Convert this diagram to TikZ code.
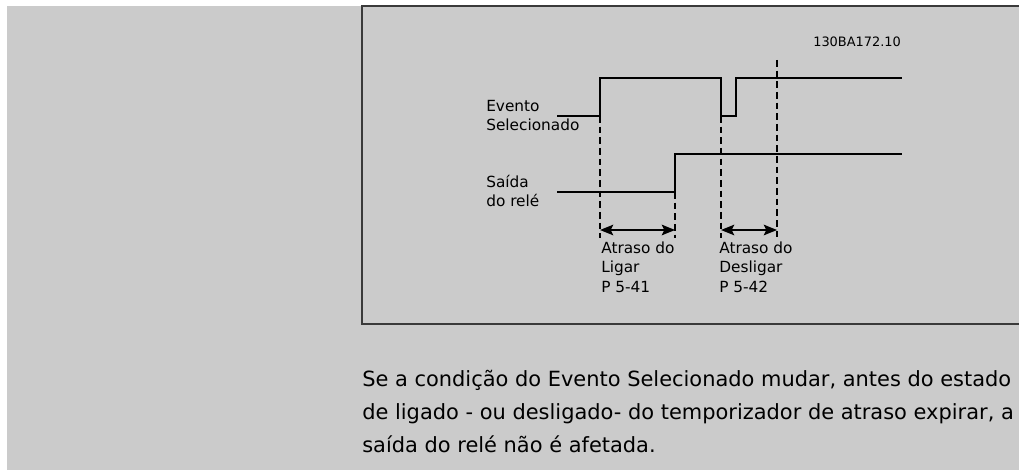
\documentclass[tikz,border=0pt]{standalone}
\usepackage{fontspec}
\setmainfont{DejaVu Sans}
\usepackage{xcolor}
\usepackage{tikz}
\usetikzlibrary{arrows.meta}
\usetikzlibrary{calc,positioning}

\definecolor{paneel}{HTML}{CBCBCB}
\definecolor{rand}{HTML}{3A3A3A}

\tikzset{
    signaal/.style={line width=1.4pt, black},
    hulplijn/.style={line width=1pt, black, dash pattern=on 5pt off 3pt},
    vertraging/.style={line width=1.1pt, black, {Stealth[length=10pt,width=8pt,inset=2pt]}-{Stealth[length=10pt,width=8pt,inset=2pt]}},
    label/.style={anchor=base west, inner sep=0pt, align=left, font=\fontsize{11.5}{14.5}\selectfont},
}

\begin{document}
\begin{tikzpicture}[x=0.75pt,y=-0.75pt]

    % Achtergrond
    \useasboundingbox (0,0) rectangle (1019,470);
    \fill[white] (0,0) rectangle (1019,470);
    \fill[paneel] (7,6) rectangle (1019,470);

    % Kader
    \draw[rand, line width=1.3pt] (1025,6) -- (362,6) -- (362,324) -- (1025,324);

    % Code rechtsboven
    \node[anchor=west, inner sep=0pt, font=\fontsize{9.7}{12}\selectfont] (code) at (813,42) {130BA172.10};

    % Labels links (base = laatste regel)
    \node[label] (evento) at (486,131) {Evento\\Selecionado};
    \node[label] (saida) at (486,207) {Saída\\do relé};

    % Tijdstippen
    \coordinate (t1) at (600,0);
    \coordinate (t2) at (675,0);
    \coordinate (t3) at (721,0);
    \coordinate (t4) at (736,0);
    \coordinate (t5) at (777,0);

    % Evento Selecionado
    \draw[signaal] (557,116) -- (t1 |- 0,116) -- (t1 |- 0,78) -- (t3 |- 0,78)
        -- (t3 |- 0,116) -- (t4 |- 0,116) -- (t4 |- 0,78) -- (902,78);

    % Saida do rele
    \draw[signaal] (557,192) -- (t2 |- 0,192) -- (t2 |- 0,154) -- (902,154);

    % Hulplijnen
    \foreach \t/\y in {t1/116, t2/192, t3/116, t5/60} {
        \draw[hulplijn] (\t |- 0,\y) -- (\t |- 0,238);
    }

    % Vertragingen
    \coordinate (ligA) at (t1 |- 0,230);
    \coordinate (ligB) at (t2 |- 0,230);
    \coordinate (desA) at (t3 |- 0,230);
    \coordinate (desB) at (t5 |- 0,230);
    \draw[vertraging] (ligA) -- (ligB);
    \draw[vertraging] (desA) -- (desB);

    \node[label] (ligar) at (601,292) {Atraso do\\Ligar\\P 5-41};
    \node[label] (desligar) at (719,292) {Atraso do\\Desligar\\P 5-42};

    % Tekst onder
    \node[anchor=base west, inner sep=0pt, align=left, font=\fontsize{15.7}{24.4}\selectfont] (uitleg) at (362,452)
        {Se a condição do Evento Selecionado mudar, antes do estado\\
         de ligado - ou desligado- do temporizador de atraso expirar, a\\
         saída do relé não é afetada.};

\end{tikzpicture}
\end{document}
